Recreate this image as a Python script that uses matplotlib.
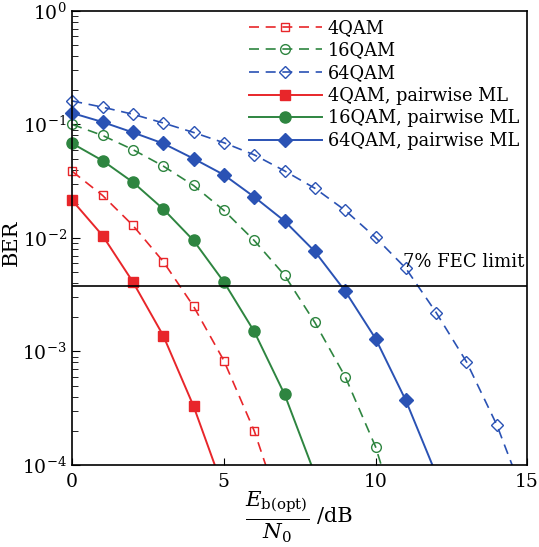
import numpy as np
import matplotlib.pyplot as plt
from matplotlib.transforms import Bbox, TransformedBbox

plt.rcParams['font.family'] = 'DejaVu Serif'
plt.rcParams['mathtext.fontset'] = 'dejavuserif'

# Eb/N0 in dB
x_4 = [0, 1, 2, 3, 4, 5, 6, 7]
x_4ml = [0, 1, 2, 3, 4, 5]
x_16 = [0, 1, 2, 3, 4, 5, 6, 7, 8, 9, 10, 11]
x_16ml = [0, 1, 2, 3, 4, 5, 6, 7, 8]
x_64 = [0, 1, 2, 3, 4, 5, 6, 7, 8, 9, 10, 11, 12, 13, 14, 15]
x_64ml = [0, 1, 2, 3, 4, 5, 6, 7, 8, 9, 10, 11, 12]

# BER values (last points lie below the axis floor, line gets clipped)
ber_4 = [0.0386, 0.0237, 0.0129, 0.0062, 0.0025, 0.00083, 0.0002, 3.2e-5]
ber_4ml = [0.0214, 0.0105, 0.0041, 0.00138, 0.00033, 6e-5]
ber_16 = [0.100, 0.080, 0.060, 0.043, 0.029, 0.0175, 0.0095, 0.0047,
          0.0018, 0.0006, 0.000145, 2e-5]
ber_16ml = [0.068, 0.048, 0.031, 0.018, 0.0095, 0.0041, 0.0015, 0.00042, 8.3e-5]
ber_64 = [0.161, 0.142, 0.123, 0.103, 0.085, 0.069, 0.054, 0.039,
          0.0274, 0.0175, 0.0101, 0.0054, 0.0022, 0.00081, 0.000225, 4.5e-5]
ber_64ml = [0.126, 0.105, 0.085, 0.068, 0.050, 0.036, 0.023, 0.0141,
            0.0076, 0.0034, 0.0013, 0.00037, 8.3e-5]

fec_limit = 3.8e-3

red = '#e8262a'
green = '#2e8540'
blue = '#2a52b4'

fig = plt.figure(figsize=(5.39, 5.47), dpi=100)
ax = fig.add_axes([0.134, 0.150, 0.844, 0.830])

dash = (0, (6, 4))
lines = []
lines += ax.semilogy(x_4, ber_4, color=red, ls=dash, lw=1.2, marker='s', ms=6,
                     mfc='none', mew=1.0, label='4QAM')
lines += ax.semilogy(x_16, ber_16, color=green, ls=dash, lw=1.2, marker='o', ms=7,
                     mfc='none', mew=1.0, label='16QAM')
lines += ax.semilogy(x_64, ber_64, color=blue, ls=dash, lw=1.2, marker='D', ms=6,
                     mfc='none', mew=1.0, label='64QAM')
lines += ax.semilogy(x_4ml, ber_4ml, color=red, lw=1.4, marker='s', ms=7,
                     label='4QAM, pairwise ML')
lines += ax.semilogy(x_16ml, ber_16ml, color=green, lw=1.4, marker='o', ms=8,
                     label='16QAM, pairwise ML')
lines += ax.semilogy(x_64ml, ber_64ml, color=blue, lw=1.4, marker='D', ms=7,
                     label='64QAM, pairwise ML')

# let markers on the left spine show fully, but still clip at the bottom
clip = TransformedBbox(Bbox([[-0.05, 0], [1.05, 1.05]]), ax.transAxes)
for ln in lines:
    ln.set_clip_box(clip)

ax.axhline(fec_limit, color='black', lw=1.2)
ax.text(14.9, fec_limit * 1.35, '7% FEC limit', ha='right', va='bottom', fontsize=13)

ax.set_xlim(0, 15)
ax.set_ylim(1e-4, 1)
ax.set_xticks([0, 5, 10, 15])
ax.tick_params(axis='both', which='both', direction='in', top=False, right=False,
               labelsize=13.5)
ax.tick_params(axis='y', which='major', length=6, pad=4)
ax.tick_params(axis='y', which='minor', length=4)
ax.tick_params(axis='x', which='major', length=5, pad=6)
for s in ax.spines.values():
    s.set_linewidth(1.2)

ax.set_ylabel('BER', fontsize=15)
ax.yaxis.set_label_coords(-0.112, 0.49)
ax.set_xlabel(r'$\frac{E_{\mathrm{b(opt)}}}{N_0}$', fontsize=22)
ax.xaxis.set_label_coords(0.451, -0.052)
ax.text(0.538, -0.114, '/dB', transform=ax.transAxes, ha='left', va='center',
        fontsize=15)

ax.legend(loc='upper right', frameon=False, fontsize=12.8, handlelength=4.1,
          labelspacing=0.26, handletextpad=0.35, borderaxespad=0.0, borderpad=0.45)

fig.savefig('out.png', dpi=100)
